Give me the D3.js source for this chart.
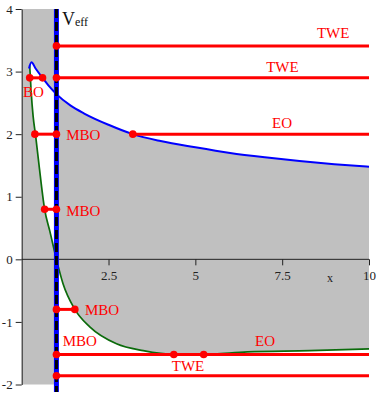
<!DOCTYPE html>
<html>
<head>
<meta charset="utf-8">
<script src="https://cdn.jsdelivr.net/npm/d3@7"></script>
<style>
  body { margin: 0; background: #fff; }
  svg text { font-family: 'Liberation Serif', 'Times New Roman', Times, serif; }
</style>
</head>
<body>
<div class="chart"></div>
<script>
// effective potential curve (blue) and second curve (green)
var blueX = [0.21, 0.28, 0.4, 0.6, 0.8, 1.0, 1.4, 1.8, 2.5, 3.2, 4.0, 5.0, 6.0, 7.0, 8.0, 9.0, 10.0];
var blueY = [3.05, 3.15, 3.05, 2.9, 2.76, 2.64, 2.46, 2.33, 2.15, 2.0, 1.89, 1.79, 1.70, 1.63, 1.57, 1.52, 1.48];
var greenX = [0.23, 0.27, 0.33, 0.4, 0.5, 0.66, 0.81, 1.0, 1.19, 1.53, 1.96, 2.73, 3.5, 4.4, 5.2, 6.5, 8.3, 10];
var greenY = [3.1, 2.7, 2.28, 1.98, 1.5, 0.8, 0.45, 0, -0.39, -0.8, -1.08, -1.35, -1.46, -1.52, -1.52, -1.48, -1.46, -1.43];

// red energy levels: [x0, x1, y]
var levels = [[1, 10, 3.41], [0.23, 0.6, 2.9], [1, 10, 2.9], [0.38, 1, 2.0], [3.2, 10, 2.0],
              [0.66, 1, 0.8], [1, 1.53, -0.8], [1, 10, -1.52], [1, 10, -1.86]];
var dots = [[1, 3.41], [0.23, 2.9], [0.6, 2.9], [1, 2.9], [0.38, 2], [1, 2], [3.2, 2],
            [0.66, 0.8], [1, 0.8], [1, -0.8], [1.53, -0.8], [1, -1.52], [4.38, -1.52], [5.24, -1.52], [1, -1.86]];
var labels = [["TWE", 8.5, 3.535], ["TWE", 7.04, 2.99], ["EO", 7.21, 2.1], ["BO", 0.04, 2.59],
              ["MBO", 1.28, 1.91], ["MBO", 1.28, 0.69], ["MBO", 1.82, -0.89], ["MBO", 1.18, -1.385],
              ["TWE", 4.32, -1.785], ["EO", 6.72, -1.385]];

var xTicks = [2.5, 5, 7.5, 10];
var xTickText = ["2.5", "5", "7.5", "10"];
var yTicks = [-2, -1, 0, 1, 2, 3, 4];
var wallX = 1;
var serif = "'Liberation Serif', 'Times New Roman', Times, serif";

var width = 382, height = 394;
var svg = d3.select(".chart").append("svg")
    .attr("width", width)
    .attr("height", height)
    .attr("font-family", serif);

var x = d3.scaleLinear().domain([0, 10]).range([21.7, 369]);
var y = d3.scaleLinear().domain([-2, 4]).range([384.5, 9]);

var blue = blueX.map(function(d, i) { return [d, blueY[i]]; });
var green = greenX.map(function(d, i) { return [d, greenY[i]]; });

var line = d3.line()
    .x(function(d) { return x(d[0]); })
    .y(function(d) { return y(d[1]); })
    .curve(d3.curveMonotoneX);

// region above the green curve, used as clip
var defs = svg.append("defs");
defs.append("clipPath").attr("id", "aboveGreen")
    .append("path")
    .attr("d", line(green) + "L" + x(10) + "," + y(5) + "L" + x(greenX[0]) + "," + y(5) + "Z");

// gray strip left of the wall
svg.append("rect")
    .attr("x", x(0))
    .attr("y", y(4))
    .attr("width", x(wallX) - x(0))
    .attr("height", y(-2) - y(4))
    .style("fill", "#c0c0c0");

var blueLeft = blue.filter(function(d) { return d[0] <= wallX; });
var blueRight = blue.filter(function(d) { return d[0] >= wallX; });
var g = svg.append("g").attr("clip-path", "url(#aboveGreen)");
g.append("path")
    .attr("d", line(blueLeft) + "L" + x(wallX) + "," + y(-2.1) + "L" + x(blueX[0]) + "," + y(-2.1) + "Z")
    .style("fill", "white");
g.append("path")
    .attr("d", line(blueRight) + "L" + x(10) + "," + y(-2.1) + "L" + x(wallX) + "," + y(-2.1) + "Z")
    .style("fill", "#c0c0c0");

// axes
var yAxis = svg.append("g")
    .attr("transform", "translate(" + x(0) + ",0)")
    .call(d3.axisLeft(y).tickValues(yTicks).tickFormat(d3.format("d")).tickSize(6).tickSizeOuter(0).tickPadding(3));
var xAxis = svg.append("g")
    .attr("transform", "translate(0," + y(0) + ")")
    .call(d3.axisBottom(x).tickValues(xTicks).tickFormat(function(d, i) { return xTickText[i]; })
          .tickSize(6).tickSizeOuter(0).tickPadding(5));
xAxis.select(".domain").attr("d", "M" + x(0) + ",0H" + x(10));
[xAxis, yAxis].forEach(function(a) {
    a.attr("font-family", serif).attr("font-size", 13);
    a.selectAll("text").style("fill", "#222");
    a.selectAll("line, .domain").style("stroke", "#222");
});
yAxis.selectAll("text").text(function(d) { return d < 0 ? "-" + Math.abs(d) : d; });

svg.append("text")
    .attr("x", 327)
    .attr("y", 282)
    .text("x")
    .style("font-size", "12px")
    .style("fill", "#222");

// curves
svg.append("path")
    .attr("d", line(green))
    .style("fill", "none")
    .style("stroke", "#0b6b0b")
    .style("stroke-width", "1.7px");
svg.append("path")
    .attr("d", line(blue))
    .style("fill", "none")
    .style("stroke", "#0000ff")
    .style("stroke-width", "2px");

// red levels
svg.selectAll("line.level")
    .data(levels)
    .enter().append("line")
    .attr("class", "level")
    .attr("x1", function(d) { return x(d[0]); })
    .attr("x2", function(d) { return x(d[1]); })
    .attr("y1", function(d) { return y(d[2]); })
    .attr("y2", function(d) { return y(d[2]); })
    .style("stroke", "#ff0000")
    .style("stroke-width", "3px");

// the wall at x = 1
svg.append("line")
    .attr("x1", x(wallX)).attr("x2", x(wallX))
    .attr("y1", y(4)).attr("y2", y(-2.12))
    .style("stroke", "#0000ff")
    .style("stroke-width", "5px");
svg.append("line")
    .attr("x1", x(wallX)).attr("x2", x(wallX))
    .attr("y1", y(4)).attr("y2", y(-2.12))
    .style("stroke", "black")
    .style("stroke-width", "3px")
    .style("stroke-dasharray", "9,4");

svg.selectAll("circle.dot")
    .data(dots)
    .enter().append("circle")
    .attr("class", "dot")
    .attr("cx", function(d) { return x(d[0]); })
    .attr("cy", function(d) { return y(d[1]); })
    .attr("r", 3.8)
    .style("fill", "#ff0000");

svg.selectAll("text.lab")
    .data(labels)
    .enter().append("text")
    .attr("class", "lab")
    .attr("x", function(d) { return x(d[1]); })
    .attr("y", function(d) { return y(d[2]); })
    .text(function(d) { return d[0]; })
    .style("font-size", "15px")
    .style("fill", "#ff0000");

// V_eff title
var t = svg.append("text")
    .attr("x", x(1.16))
    .attr("y", 25)
    .style("fill", "#111");
t.append("tspan").text("V").style("font-size", "18px");
t.append("tspan").text("eff").attr("dy", 1).style("font-size", "12px");
</script>
</body>
</html>
